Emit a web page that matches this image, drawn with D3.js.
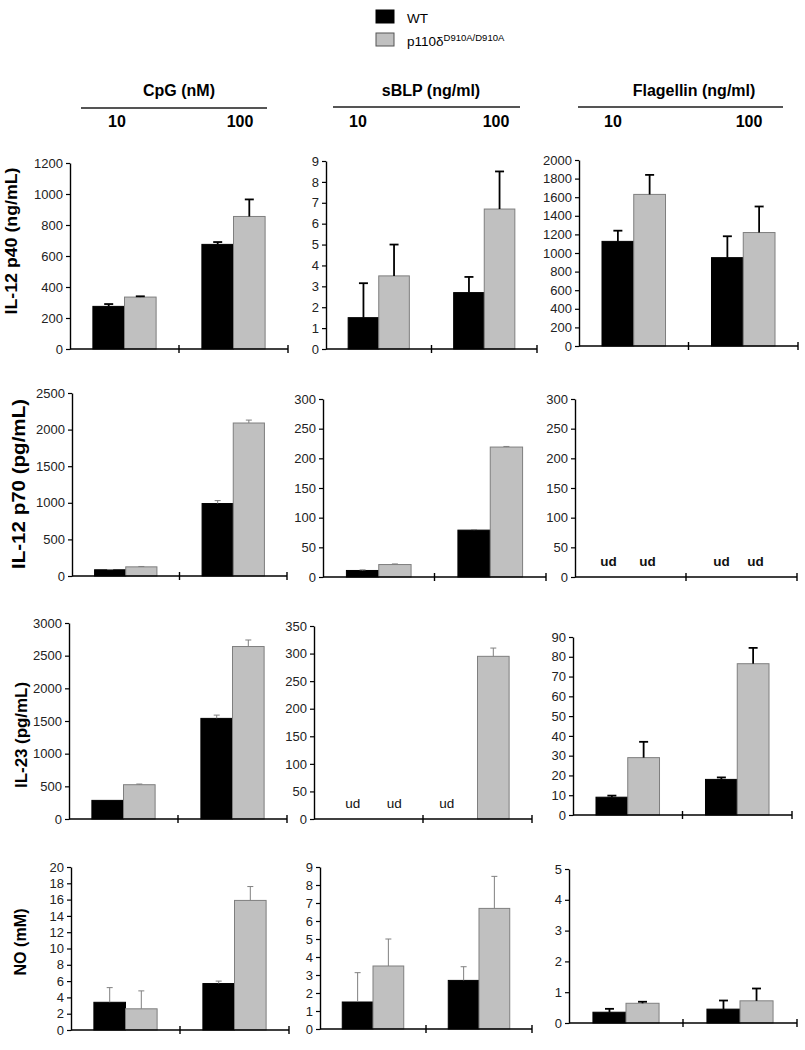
<!DOCTYPE html>
<html><head><meta charset="utf-8">
<script src="https://cdn.jsdelivr.net/npm/d3@7"></script>
<style>body{margin:0;background:#fff} svg{display:block} text{font-family:"Liberation Sans",Arial,sans-serif}</style>
</head><body><svg id="c" width="805" height="1050"></svg>
<script>
// ---------- DATA ----------
const categories = ["10", "100"];
const seriesNames = ["WT", "p110δ"];
const seriesSup = ["", "D910A/D910A"];
const stimuli = ["CpG (nM)", "sBLP (ng/ml)", "Flagellin (ng/ml)"];
const readouts = ["IL-12 p40 (ng/mL)", "IL-12 p70 (pg/mL)", "IL-23 (pg/mL)", "NO (mM)"];

// values per [WT, mutant] at [10, 100]; null = undetectable (ud); errors = upper SD
const p40_CpG_WT = [275, 675],   p40_CpG_WT_err = [15, 15];
const p40_CpG_KO = [335, 855],   p40_CpG_KO_err = [5, 110];
const p40_sBLP_WT = [1.5, 2.7],  p40_sBLP_WT_err = [1.65, 0.75];
const p40_sBLP_KO = [3.5, 6.7],  p40_sBLP_KO_err = [1.5, 1.8];
const p40_Flag_WT = [1125, 950], p40_Flag_WT_err = [115, 230];
const p40_Flag_KO = [1630, 1220],p40_Flag_KO_err = [210, 280];

const p70_CpG_WT = [85, 990],    p70_CpG_WT_err = [3, 40];
const p70_CpG_KO = [125, 2090],  p70_CpG_KO_err = [5, 40];
const p70_sBLP_WT = [11, 79],    p70_sBLP_WT_err = [1, 1];
const p70_sBLP_KO = [21, 219],   p70_sBLP_KO_err = [1, 1];
const p70_Flag_WT = [null, null],p70_Flag_WT_err = [0, 0];
const p70_Flag_KO = [null, null],p70_Flag_KO_err = [0, 0];

const il23_CpG_WT = [285, 1540], il23_CpG_WT_err = [0, 50];
const il23_CpG_KO = [525, 2640], il23_CpG_KO_err = [10, 100];
const il23_sBLP_WT = [null, null], il23_sBLP_WT_err = [0, 0];
const il23_sBLP_KO = [null, 295],  il23_sBLP_KO_err = [0, 15];
const il23_Flag_WT = [9, 18],    il23_Flag_WT_err = [0.8, 1];
const il23_Flag_KO = [29, 76.5], il23_Flag_KO_err = [8, 8];

const no_CpG_WT = [3.4, 5.7],    no_CpG_WT_err = [1.8, 0.3];
const no_CpG_KO = [2.6, 15.9],   no_CpG_KO_err = [2.2, 1.7];
const no_sBLP_WT = [1.5, 2.7],   no_sBLP_WT_err = [1.63, 0.76];
const no_sBLP_KO = [3.5, 6.7],   no_sBLP_KO_err = [1.5, 1.78];
const no_Flag_WT = [0.35, 0.45], no_Flag_WT_err = [0.11, 0.28];
const no_Flag_KO = [0.64, 0.72], no_Flag_KO_err = [0.05, 0.4];

// y tick labels per panel
const ticks_p40_CpG = [0, 200, 400, 600, 800, 1000, 1200];
const ticks_p40_sBLP = [0, 1, 2, 3, 4, 5, 6, 7, 8, 9];
const ticks_p40_Flag = [0, 200, 400, 600, 800, 1000, 1200, 1400, 1600, 1800, 2000];
const ticks_p70_CpG = [0, 500, 1000, 1500, 2000, 2500];
const ticks_p70_sBLP = [0, 50, 100, 150, 200, 250, 300];
const ticks_p70_Flag = [0, 50, 100, 150, 200, 250, 300];
const ticks_il23_CpG = [0, 500, 1000, 1500, 2000, 2500, 3000];
const ticks_il23_sBLP = [0, 50, 100, 150, 200, 250, 300, 350];
const ticks_il23_Flag = [0, 10, 20, 30, 40, 50, 60, 70, 80, 90];
const ticks_no_CpG = [0, 2, 4, 6, 8, 10, 12, 14, 16, 18, 20];
const ticks_no_sBLP = [0, 1, 2, 3, 4, 5, 6, 7, 8, 9];
const ticks_no_Flag = [0, 1, 2, 3, 4, 5];

// ---------- LAYOUT ----------
const svg = d3.select("#c");
const panels = [
  {x0:70, x1:288, yTop:163, yBot:349, ticks:ticks_p40_CpG, wt:p40_CpG_WT, wte:p40_CpG_WT_err, ko:p40_CpG_KO, koe:p40_CpG_KO_err, thick:true},
  {x0:326, x1:537, yTop:161, yBot:349, ticks:ticks_p40_sBLP, wt:p40_sBLP_WT, wte:p40_sBLP_WT_err, ko:p40_sBLP_KO, koe:p40_sBLP_KO_err, thick:true},
  {x0:579, x1:798, yTop:160, yBot:346, ticks:ticks_p40_Flag, wt:p40_Flag_WT, wte:p40_Flag_WT_err, ko:p40_Flag_KO, koe:p40_Flag_KO_err, thick:true},
  {x0:72, x1:287, yTop:393, yBot:576, ticks:ticks_p70_CpG, wt:p70_CpG_WT, wte:p70_CpG_WT_err, ko:p70_CpG_KO, koe:p70_CpG_KO_err, thick:false},
  {x0:323, x1:546, yTop:399, yBot:577, ticks:ticks_p70_sBLP, wt:p70_sBLP_WT, wte:p70_sBLP_WT_err, ko:p70_sBLP_KO, koe:p70_sBLP_KO_err, thick:false},
  {x0:575, x1:797, yTop:399, yBot:577, ticks:ticks_p70_Flag, wt:p70_Flag_WT, wte:p70_Flag_WT_err, ko:p70_Flag_KO, koe:p70_Flag_KO_err, thick:true, udBold:true, udDx:[[-6,-4],[1,-2]]},
  {x0:69, x1:287, yTop:623, yBot:819, ticks:ticks_il23_CpG, wt:il23_CpG_WT, wte:il23_CpG_WT_err, ko:il23_CpG_KO, koe:il23_CpG_KO_err, thick:false},
  {x0:314, x1:532, yTop:626, yBot:819, ticks:ticks_il23_sBLP, wt:il23_sBLP_WT, wte:il23_sBLP_WT_err, ko:il23_sBLP_KO, koe:il23_sBLP_KO_err, thick:false, udBold:false, udDx:[[0,-15],[10,0]]},
  {x0:573, x1:792, yTop:637, yBot:815, ticks:ticks_il23_Flag, wt:il23_Flag_WT, wte:il23_Flag_WT_err, ko:il23_Flag_KO, koe:il23_Flag_KO_err, thick:true},
  {x0:71, x1:289, yTop:867, yBot:1030, ticks:ticks_no_CpG, wt:no_CpG_WT, wte:no_CpG_WT_err, ko:no_CpG_KO, koe:no_CpG_KO_err, thick:false},
  {x0:320, x1:532, yTop:867, yBot:1029, ticks:ticks_no_sBLP, wt:no_sBLP_WT, wte:no_sBLP_WT_err, ko:no_sBLP_KO, koe:no_sBLP_KO_err, thick:false},
  {x0:569, x1:797, yTop:869, yBot:1023, ticks:ticks_no_Flag, wt:no_Flag_WT, wte:no_Flag_WT_err, ko:no_Flag_KO, koe:no_Flag_KO_err, thick:true}
];

function drawPanel(p) {
  const g = svg.append("g");
  const y = d3.scaleLinear().domain([0, p.ticks[p.ticks.length - 1]]).range([p.yBot, p.yTop]);
  const x = d3.scaleBand().domain(categories).range([p.x0, p.x1]).paddingInner(0.42).paddingOuter(0.21);
  const xs = d3.scaleBand().domain([0, 1]).range([0, x.bandwidth()]);
  const sets = [[p.wt, p.wte], [p.ko, p.koe]];
  sets.forEach(([vals, errs], s) => {
    vals.forEach((v, i) => {
      const bx = x(categories[i]) + xs(s), bw = xs.bandwidth(), cx = bx + bw / 2;
      if (v === null) {
        const dx = p.udDx ? p.udDx[s][i] : 0;
        g.append("text").attr("x", cx + dx).attr("y", p.yBot - 11)
          .attr("text-anchor", "middle").attr("font-size", 13.5)
          .attr("font-weight", p.udBold ? "bold" : "normal").attr("fill", "#111").text("ud");
        return;
      }
      g.append("rect").attr("x", bx).attr("y", y(v)).attr("width", bw).attr("height", p.yBot - y(v))
        .attr("fill", s === 0 ? "#000" : "#c0c0c0").attr("stroke", s === 0 ? "#000" : "#7f7f7f").attr("stroke-width", 1);
      const e = errs[i];
      if (e > 0) {
        const col = p.thick ? "#000" : "#808080", sw = p.thick ? 1.8 : 1, cw = p.thick ? 4.5 : 3;
        g.append("line").attr("x1", cx).attr("x2", cx).attr("y1", y(v)).attr("y2", y(v + e)).attr("stroke", col).attr("stroke-width", sw);
        g.append("line").attr("x1", cx - cw).attr("x2", cx + cw).attr("y1", y(v + e)).attr("y2", y(v + e)).attr("stroke", col).attr("stroke-width", sw);
      }
    });
  });
  const ax = g.append("g").attr("transform", `translate(${p.x0},0)`)
    .call(d3.axisLeft(y).tickValues(p.ticks).tickSize(4).tickSizeOuter(0).tickPadding(3).tickFormat(d3.format("d")));
  ax.select(".domain").attr("stroke", "#000").attr("stroke-width", 1.4);
  ax.selectAll(".tick line").attr("stroke", "#000").attr("stroke-width", 1.2);
  ax.selectAll(".tick text").attr("font-size", 13).attr("fill", "#222").attr("font-family", "Liberation Sans, Arial, sans-serif");
  const [r0, r1] = x.range();
  g.append("line").attr("x1", r0).attr("x2", r1).attr("y1", p.yBot).attr("y2", p.yBot).attr("stroke", "#000").attr("stroke-width", 1.6);
  [(r0 + r1) / 2, r1].forEach(t => {
    g.append("line").attr("x1", t).attr("x2", t).attr("y1", p.yBot - 4).attr("y2", p.yBot + 4).attr("stroke", "#000").attr("stroke-width", 1.4);
  });
}
panels.forEach(drawPanel);

const ylab = [
  {x: 17, y: 241, len: 147, fs: 16.5},
  {x: 25, y: 484, len: 170, fs: 18},
  {x: 27, y: 735, len: 106, fs: 16},
  {x: 26, y: 942, len: 67, fs: 16.5}
];
readouts.forEach((t, i) => {
  const L = ylab[i];
  svg.append("text").attr("transform", `translate(${L.x},${L.y}) rotate(-90)`)
    .attr("text-anchor", "middle").attr("font-weight", "bold").attr("font-size", L.fs)
    .attr("textLength", L.len).attr("lengthAdjust", "spacingAndGlyphs").attr("fill", "#000").text(t);
});

const hdr = [
  {cx: 179, lx0: 81, lx1: 267, ly: 108, n10: 117, n100: 240},
  {cx: 431, lx0: 333, lx1: 520, ly: 107, n10: 358, n100: 496},
  {cx: 694, lx0: 578, lx1: 783, ly: 107, n10: 613, n100: 749}
];
stimuli.forEach((t, i) => {
  const h = hdr[i];
  svg.append("text").attr("x", h.cx).attr("y", 96).attr("text-anchor", "middle")
    .attr("font-weight", "bold").attr("font-size", 16).text(t);
  svg.append("line").attr("x1", h.lx0).attr("x2", h.lx1).attr("y1", h.ly).attr("y2", h.ly)
    .attr("stroke", "#555").attr("stroke-width", 2);
  [h.n10, h.n100].forEach((nx, k) => {
    svg.append("text").attr("x", nx).attr("y", 127).attr("text-anchor", "middle")
      .attr("font-weight", "bold").attr("font-size", 16).text(categories[k]);
  });
});

const leg = svg.append("g");
seriesNames.forEach((nm, i) => {
  const yy = 10 + i * 23;
  leg.append("rect").attr("x", 376).attr("y", yy).attr("width", 18).attr("height", 13)
    .attr("fill", i === 0 ? "#000" : "#c0c0c0").attr("stroke", i === 0 ? "#000" : "#555").attr("stroke-width", 1);
  const t = leg.append("text").attr("x", 407).attr("y", yy + 13).attr("font-size", 13.5).attr("fill", "#000");
  t.append("tspan").text(nm);
  if (seriesSup[i]) t.append("tspan").attr("dy", -5).attr("font-size", 9.5).text(seriesSup[i]);
});
</script>
</body></html>
